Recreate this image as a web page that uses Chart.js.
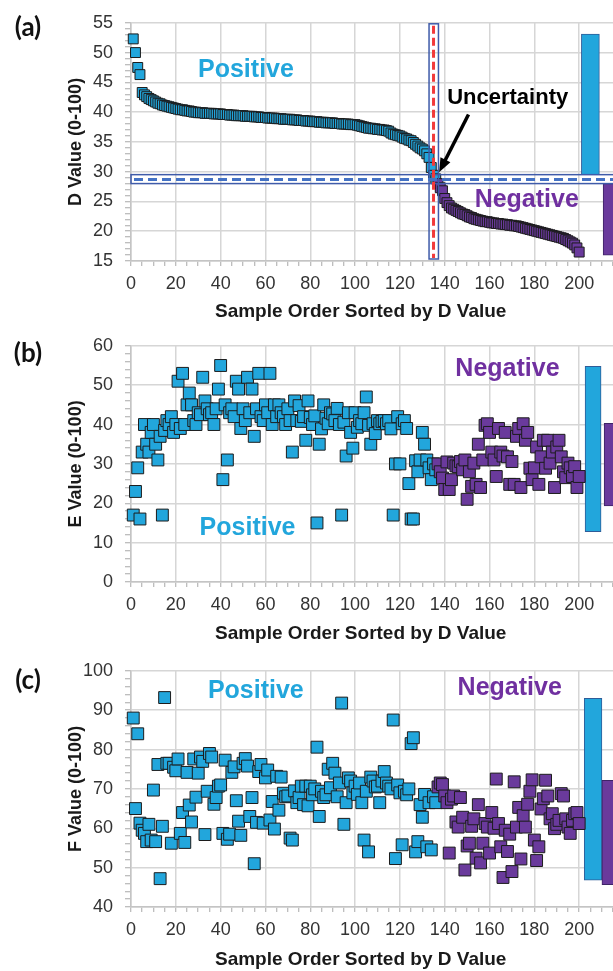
<!DOCTYPE html>
<html>
<head>
<meta charset="utf-8">
<script src="https://cdn.jsdelivr.net/npm/chart.js@4.4.1/dist/chart.umd.min.js"></script>
<style>
    html, body { margin: 0; padding: 0; background: #fff; overflow: hidden; }
    body { width: 613px; height: 971px; position: relative; }
    canvas { position: absolute; left: 0; }
    .tag { position: absolute; font: bold 26px Lato, 'Liberation Sans', sans-serif; color: #111; transform: translate(-50%, -50%); }
</style>
</head>
<body>
<canvas id="chart-d" width="624" height="323" style="top:0"></canvas>
<canvas id="chart-e" width="624" height="325" style="top:323px"></canvas>
<canvas id="chart-f" width="624" height="323" style="top:648px"></canvas>
<div class="tag" style="left:28px;top:26px">(a)</div>
<div class="tag" style="left:28px;top:352px">(b)</div>
<div class="tag" style="left:28px;top:679px">(c)</div>
<script>
// samples 1..136 are Positive, 137..200 Negative
const positiveCount = 136;
const xTitle = 'Sample Order Sorted by D Value';

const dValues = [
    52.3, 50.0, 47.5, 46.3, 43.3, 42.9, 42.6, 42.3, 42.1, 41.9,
    41.7, 41.5, 41.4, 41.2, 41.1, 41.0, 40.9, 40.8, 40.7, 40.6,
    40.5, 40.4, 40.4, 40.3, 40.2, 40.2, 40.1, 40.0, 40.0, 39.9,
    39.9, 39.9, 39.8, 39.8, 39.8, 39.8, 39.7, 39.7, 39.7, 39.7,
    39.6, 39.6, 39.6, 39.5, 39.5, 39.5, 39.4, 39.4, 39.4, 39.4,
    39.3, 39.3, 39.3, 39.3, 39.2, 39.2, 39.2, 39.1, 39.1, 39.1,
    39.0, 39.0, 39.0, 39.0, 38.9, 38.9, 38.9, 38.8, 38.8, 38.8,
    38.8, 38.7, 38.7, 38.7, 38.6, 38.6, 38.6, 38.5, 38.5, 38.5,
    38.4, 38.4, 38.4, 38.3, 38.3, 38.3, 38.2, 38.2, 38.2, 38.2,
    38.1, 38.1, 38.1, 38.0, 38.0, 38.0, 38.0, 37.9, 37.9, 37.9,
    37.8, 37.7, 37.6, 37.5, 37.4, 37.3, 37.3, 37.2, 37.2, 37.1,
    37.1, 37.0, 37.0, 36.9, 36.8, 36.5, 36.3, 36.2, 36.1, 36.0,
    35.8, 35.6, 35.5, 35.3, 35.2, 34.9, 34.6, 34.3, 34.0, 33.8,
    33.5, 33.0, 32.4, 30.7, 29.4, 28.8, 28.0, 27.3, 26.8, 25.5,
    24.8, 24.3, 23.9, 23.7, 23.5, 23.3, 23.1, 22.9, 22.8, 22.6,
    22.4, 22.3, 22.1, 22.0, 21.9, 21.8, 21.7, 21.6, 21.6, 21.5,
    21.4, 21.4, 21.3, 21.3, 21.2, 21.2, 21.1, 21.1, 21.0, 21.0,
    20.9, 20.9, 20.8, 20.7, 20.6, 20.5, 20.4, 20.3, 20.2, 20.1,
    20.0, 19.9, 19.8, 19.7, 19.6, 19.5, 19.4, 19.3, 19.2, 19.1,
    19.0, 18.9, 18.8, 18.6, 18.4, 18.2, 18.0, 17.7, 17.2, 16.5,
];

const eValues = [
    17, 23, 29, 16, 33, 40, 35, 33, 38, 40,
    35, 31, 37, 17, 38.5, 41, 40, 42, 38, 40,
    51, 39, 53, 40, 45, 48, 45, 41, 40, 43,
    42.5, 52, 46, 44, 42.5, 43, 40, 44, 49, 55,
    26, 45, 31, 43, 44, 42, 51, 49, 39, 44,
    41, 52, 43, 49, 37, 44, 53, 42, 41, 45,
    43, 53, 40, 45, 42, 45, 43, 42, 40, 44,
    41, 33, 46, 41, 44.8, 40.8, 42, 36, 46, 41.8,
    40, 42.2, 15, 35, 38.9, 45, 41.6, 40.2, 43, 42.7,
    41, 44.1, 40, 17, 40.6, 32, 43, 38, 34, 43,
    39.3, 41, 40.2, 43, 47, 39.8, 35, 40.2, 37.7, 41,
    40.2, 40.8, 41, 40.2, 41, 38.9, 17, 30, 42, 30,
    40.2, 41, 39, 25, 16, 16, 30.8, 28, 31, 38,
    35, 31, 29, 26, 30, 28.5, 30, 28, 26.4, 23.5,
    30.5, 23.5, 26, 30.2, 29.5, 29.3, 30.6, 28.5, 31, 21,
    28, 24.3, 30.2, 24.8, 35, 24, 31, 39.8, 40.2, 38,
    33, 31, 26.8, 39, 33, 32, 38, 31.8, 24.8, 30.6,
    24.8, 37, 39, 24, 40.2, 36, 38, 28.9, 26, 29,
    34.3, 24.8, 31.8, 36, 28.9, 36, 30.2, 33, 24, 34.3,
    36, 31.8, 28, 26.5, 30.2, 29, 26.8, 29.3, 24, 26.8,
];

const fValues = [
    88, 65, 84, 61.3, 59.5, 58.7, 56.6, 61, 57, 69.7,
    56.6, 76.2, 47.2, 60.5, 93.2, 76.5, 76.5, 56.2, 75.5, 74.6,
    77.6, 58.7, 64, 56.4, 74.2, 65.9, 61.6, 77.6, 67.9, 74,
    78.1, 77, 58.4, 69.4, 79, 78.1, 66.1, 67.8, 70.7, 71,
    58.7, 77.3, 57.2, 58.5, 74.2, 75.6, 67, 61.8, 58.2, 76.5,
    77.7, 75.8, 63, 67.8, 51, 61.5, 74.4, 76.2, 61.3, 72.8,
    74.8, 62.1, 66.8, 59.8, 73.2, 64.6, 73, 68.9, 68, 68.2,
    57.5, 57, 69.5, 66.5, 67.8, 70.7, 66, 70.7, 65.7, 70.7,
    68.5, 70, 80.6, 63, 69.4, 67.8, 68.5, 75, 70.3, 76.5,
    74, 68, 71.5, 91.8, 61, 66.5, 72.8, 72, 69, 70.7,
    68.6, 71.5, 66.5, 57, 69.4, 54, 73, 72, 70.5, 70.7,
    66.5, 72, 74.4, 71.5, 70.7, 70, 87.5, 52.3, 71, 69,
    55.8, 69.4, 68.5, 70, 81.5, 83, 54, 56.6, 66, 62.8,
    68.6, 55.3, 66.5, 54.5, 68, 66.5, 70.5, 71.5, 71.1, 68.2,
    66.5, 53.7, 67.4, 68.2, 61.6, 60.3, 67.8, 62.8, 49.4, 55.5,
    56.2, 60.5, 62.4, 52.4, 66, 51.2, 56.2, 61.2, 60.3, 53.7,
    64, 60, 72.5, 61.2, 55.3, 47.5, 59.5, 54.1, 58.5, 49,
    71.8, 60.3, 65.3, 52.2, 63.2, 60.3, 66.1, 69.4, 72.3, 57,
    51.8, 55.3, 64.9, 67.5, 72.2, 68.2, 62.4, 63.7, 59.9, 61,
    62, 68.8, 68.2, 62.4, 60.3, 58.7, 62, 63.7, 64, 61.2,
];

// group ranges shown as the two bars right of the scatter [low, high]
const dRanges = [[29.5, 53.1], [16.0, 28.0]];
const eRanges = [[12.8, 54.8], [19.3, 40.3]];
const fRanges = [[46.8, 93.0], [45.7, 72.2]];

// uncertainty zone in (a)
const dCut = 28.7;
const dBand = [28.0, 29.5];
const sampleCut = 135;
const sampleBand = [133, 137.2];

const posColor = '#22A6DC';
const negColor = '#6A3A9C';
const negText = '#7030A0';
const edgeColor = '#1c1c1c';
const gridColor = '#d6d6d6';
const fontFamily = "'Liberation Sans', Arial, sans-serif";

const note = (ctx, x, y, text, at, color, size) => {
    ctx.font = `bold ${size}px ${fontFamily}`;
    ctx.fillStyle = color;
    ctx.textAlign = 'center';
    ctx.textBaseline = 'middle';
    ctx.fillText(text, x.getPixelForValue(at[0]), y.getPixelForValue(at[1]));
};

// annotations over the points, plus the x title (it sits left of the axis centre)
const marksPlugin = (draw, titleY) => ({
    id: 'marks',
    afterDatasetsDraw(chart) {
        const { ctx, chartArea, scales: { x, y } } = chart;
        ctx.save();
        draw(ctx, x, y, chartArea);
        ctx.restore();
    },
    afterDraw(chart) {
        const { ctx, scales: { x } } = chart;
        ctx.save();
        ctx.font = `bold 19px ${fontFamily}`;
        ctx.fillStyle = '#1a1a1a';
        ctx.textAlign = 'center';
        ctx.textBaseline = 'middle';
        ctx.fillText(xTitle, x.getPixelForValue(102.5), titleY);
        ctx.restore();
    },
});

const drawUncertainty = (ctx, x, y, area) => {
    ctx.lineWidth = 1.5;
    ctx.strokeStyle = '#3F5BA9';
    const bandTop = y.getPixelForValue(dBand[1]);
    const bandBottom = y.getPixelForValue(dBand[0]);
    ctx.strokeRect(area.left, bandTop, area.right - area.left + 5, bandBottom - bandTop);
    const colLeft = x.getPixelForValue(sampleBand[0]);
    const colRight = x.getPixelForValue(sampleBand[1]);
    ctx.strokeRect(colLeft, area.top + 1, colRight - colLeft, area.bottom - area.top - 3);

    ctx.lineWidth = 3;
    ctx.setLineDash([9, 5]);
    ctx.strokeStyle = '#4472C4';
    const cy = y.getPixelForValue(dCut);
    ctx.beginPath();
    ctx.moveTo(area.left + 3, cy);
    ctx.lineTo(area.right, cy);
    ctx.stroke();

    ctx.setLineDash([8, 4]);
    ctx.strokeStyle = '#F23A3A';
    const cx = x.getPixelForValue(sampleCut);
    ctx.beginPath();
    ctx.moveTo(cx, area.top + 3);
    ctx.lineTo(cx, area.bottom - 3);
    ctx.stroke();
    ctx.setLineDash([]);

    // arrow pointing at the crossing
    const x0 = x.getPixelForValue(150.6), y0 = y.getPixelForValue(39.6);
    const x1 = x.getPixelForValue(137.5), y1 = y.getPixelForValue(29.9);
    const ang = Math.atan2(y1 - y0, x1 - x0);
    const head = 15;
    ctx.strokeStyle = '#000';
    ctx.fillStyle = '#000';
    ctx.lineWidth = 3.5;
    ctx.beginPath();
    ctx.moveTo(x0, y0);
    ctx.lineTo(x1 - Math.cos(ang) * head * 0.8, y1 - Math.sin(ang) * head * 0.8);
    ctx.stroke();
    ctx.beginPath();
    ctx.moveTo(x1, y1);
    ctx.lineTo(x1 - head * Math.cos(ang - 0.38), y1 - head * Math.sin(ang - 0.38));
    ctx.lineTo(x1 - head * Math.cos(ang + 0.38), y1 - head * Math.sin(ang + 0.38));
    ctx.closePath();
    ctx.fill();

    note(ctx, x, y, 'Positive', [51.3, 47.1], posColor, 25);
    note(ctx, x, y, 'Negative', [176.6, 25.2], negText, 25);
    note(ctx, x, y, 'Uncertainty', [168.1, 42.4], '#000', 22);
};

const buildPanel = (id, p) => {
    const ctx = document.getElementById(id);
    const positives = p.values.slice(0, positiveCount).map((v, i) => ({ x: i + 1, y: v }));
    const negatives = p.values.slice(positiveCount).map((v, i) => ({ x: positiveCount + i + 1, y: v }));
    const square = {
        pointStyle: 'rect',
        pointRadius: p.radius,
        pointHoverRadius: p.radius,
        borderColor: edgeColor,
        borderWidth: 1,
        clip: false,
    };

    return new Chart(ctx, {
        type: 'scatter',
        data: {
            datasets: [
                { ...square, label: 'Negative', data: negatives, backgroundColor: negColor, order: 0 },
                { ...square, label: 'Positive', data: positives, backgroundColor: posColor, order: 1 },
                {
                    type: 'bar',
                    label: 'Range',
                    data: p.ranges.map((r, i) => ({ x: p.barX[i], y: r })),
                    backgroundColor: [posColor, negColor],
                    borderColor: ['#2F5C98', '#3E2466'],
                    borderWidth: 1,
                    borderSkipped: false,
                    barThickness: p.barWidth,
                    order: 2,
                },
            ],
        },
        options: {
            animation: false,
            responsive: false,
            events: [],
            layout: { autoPadding: false, padding: { top: p.top, left: 0, right: 0, bottom: 0 } },
            plugins: { legend: { display: false }, tooltip: { enabled: false } },
            scales: {
                x: {
                    type: 'linear',
                    min: 0,
                    max: 220,
                    offset: false,
                    afterFit: (s) => {
                        s.height = p.xAxisHeight;
                        s.paddingRight = 0;
                    },
                    ticks: {
                        stepSize: 5,
                        autoSkip: false,
                        maxRotation: 0,
                        minRotation: 0,
                        padding: 7,
                        color: '#333',
                        font: { family: fontFamily, size: 18 },
                        callback: (v) => (v % 20 === 0 && v <= 200 ? v : ''),
                    },
                    grid: {
                        offset: false,
                        color: (c) => (c.tick && c.tick.value % 20 === 0 ? gridColor : 'rgba(0,0,0,0)'),
                        lineWidth: 1.5,
                        tickColor: '#a8a8a8',
                        tickLength: 5,
                        tickWidth: 1,
                    },
                    border: { color: '#c4c4c4', width: 1.5 },
                    title: { display: false },
                },
                y: {
                    min: p.yMin,
                    max: p.yMax,
                    afterFit: (s) => { s.width = 131; },
                    ticks: {
                        stepSize: p.yMinor,
                        autoSkip: false,
                        padding: 12,
                        color: '#333',
                        font: { family: fontFamily, size: 18 },
                        callback: (v) => (v % p.yMajor === 0 ? v : ''),
                    },
                    grid: {
                        color: (c) => (c.tick && c.tick.value % p.yMajor === 0 ? gridColor : 'rgba(0,0,0,0)'),
                        lineWidth: 1.5,
                        tickColor: '#a8a8a8',
                        tickLength: 6,
                        tickWidth: 1,
                    },
                    border: { color: '#c4c4c4', width: 1.5 },
                    title: {
                        display: true,
                        text: p.yTitle,
                        color: '#1a1a1a',
                        font: { family: fontFamily, size: 18, weight: 'bold' },
                        padding: { top: 65, bottom: 0 },
                    },
                },
            },
        },
        plugins: [marksPlugin(p.marks, p.titleY)],
    });
};

buildPanel('chart-d', {
    values: dValues, ranges: dRanges, barX: [205, 214.7], barWidth: 18,
    yMin: 15, yMax: 55, yMinor: 1, yMajor: 5, yTitle: 'D Value (0-100)',
    top: 20.7, xAxisHeight: 62, titleY: 312, radius: 7,
    marks: drawUncertainty,
});

buildPanel('chart-e', {
    values: eValues, ranges: eRanges, barX: [206.2, 214.7], barWidth: 16,
    yMin: 0, yMax: 60, yMinor: 2, yMajor: 10, yTitle: 'E Value (0-100)',
    top: 19, xAxisHeight: 66, titleY: 311, radius: 8.4,
    marks: (ctx, x, y) => {
        note(ctx, x, y, 'Negative', [168, 54.2], negText, 25);
        note(ctx, x, y, 'Positive', [52, 13.8], posColor, 25);
    },
});

buildPanel('chart-f', {
    values: fValues, ranges: fRanges, barX: [206.2, 214.1], barWidth: 17.7,
    yMin: 40, yMax: 100, yMinor: 2, yMajor: 10, yTitle: 'F Value (0-100)',
    top: 18, xAxisHeight: 64, titleY: 312, radius: 8.4,
    marks: (ctx, x, y) => {
        note(ctx, x, y, 'Positive', [55.7, 94.9], posColor, 25);
        note(ctx, x, y, 'Negative', [169, 95.7], negText, 25);
    },
});
</script>
</body>
</html>
